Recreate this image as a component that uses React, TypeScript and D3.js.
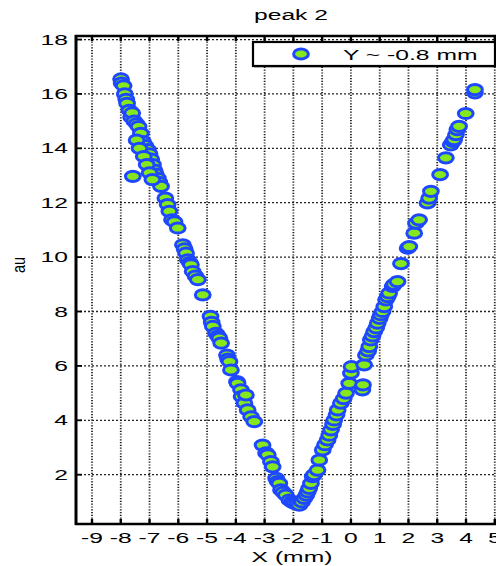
import React from "react";
import * as d3 from "d3";

const titleText = "peak 2";
const xLabelText = "X (mm)";
const yLabelText = "au";
const legendText = "Y ~ -0.8 mm";

const xTicks = [-9, -8, -7, -6, -5, -4, -3, -2, -1, 0, 1, 2, 3, 4, 5];
const yTicks = [2, 4, 6, 8, 10, 12, 14, 16, 18];

const xValues = [
  -7.99, -7.97, -7.9, -7.86, -7.81, -7.78, -7.7, -7.64, -7.6, -7.53, -7.45, -7.38, -7.3, -7.23, -7.15,
  -7.06, -7.0, -6.94, -6.88, -6.83, -6.78, -6.71, -6.66, -6.6, -7.58, -6.45, -6.37, -6.31, -6.22, -6.13,
  -7.45, -7.35, -7.2, -7.1, -7.0, -6.9,
  -6.02, -5.84, -5.78, -5.73, -5.67, -5.6, -5.56, -5.5, -5.4, -5.32, -5.15, -4.88, -4.84, -4.8, -4.69,
  -4.62, -4.57, -4.51, -4.31, -4.27, -4.22, -4.17, -3.96, -3.94, -3.82, -3.8, -3.7, -3.65, -3.59, -3.47,
  -3.36, -3.07, -2.95, -2.89, -2.78, -2.72, -2.6, -2.55, -2.49, -2.43, -2.35, -2.26, -2.14, -2.05, -1.97,
  -1.88, -1.79,
  -1.7, -1.62, -1.55, -1.5, -1.45, -1.39, -1.33, -1.28, -1.16, -1.1, -0.98, -0.9, -0.81, -0.75, -0.69,
  -0.62, -0.58, -0.5, -0.46, -0.35, -0.25, -0.17, -0.06, 0.4, 0.42, 0.0, 0.02, 0.46, 0.52, 0.6,
  0.64, 0.69, 0.75, 0.81, 0.88, 0.93, 1.0, 1.04, 1.1, 1.16, 1.22, 1.28, 1.33, 1.45, 1.5,
  1.62, 1.74, 1.97, 2.03, 2.2, 2.26, 2.37, 2.66, 2.72, 2.78, 3.1, 3.3, 3.47, 3.55, 3.59,
  3.65, 3.7, 3.76, 3.99, 4.31, 4.31,
];

const yValues = [
  16.55, 16.4, 16.3, 16.0, 15.8, 15.65, 15.4, 15.15, 15.3, 15.0, 14.9, 14.8, 14.55, 14.25, 14.1,
  13.95, 13.8, 13.6, 13.4, 13.2, 13.05, 12.9, 12.75, 12.6, 12.97, 12.17, 11.93, 11.68, 11.37, 11.3,
  14.3, 14.0, 13.7, 13.4, 13.1, 12.85,
  11.07, 10.45, 10.3, 10.15, 9.9, 9.8, 9.72, 9.47, 9.3, 9.17, 8.61, 7.82, 7.6, 7.45, 7.2,
  7.1, 7.02, 6.84, 6.4, 6.25, 6.16, 5.85, 5.42, 5.36, 5.12, 4.87, 4.63, 4.93, 4.38, 4.13,
  3.95, 3.09, 2.8, 2.73, 2.48, 2.29, 1.87, 1.75, 1.68, 1.44, 1.35, 1.25, 1.07, 1.0, 0.95,
  0.92, 0.88,
  1.0, 1.13, 1.25, 1.37, 1.5, 1.68, 1.93, 2.0, 2.17, 2.54, 2.91, 3.1, 3.28, 3.45, 3.65,
  3.85, 4.01, 4.2, 4.38, 4.63, 4.8, 5.0, 5.36, 5.12, 5.3, 5.73, 5.97, 6.04, 6.4, 6.55,
  6.71, 6.96, 7.1, 7.26, 7.4, 7.57, 7.75, 7.88, 8.0, 8.18, 8.43, 8.55, 8.68, 8.92, 9.0,
  9.1, 9.76, 10.33, 10.39, 10.88, 11.25, 11.37, 11.99, 12.17, 12.42, 13.03, 13.65, 14.13, 14.25, 14.32,
  14.5, 14.69, 14.81, 15.28, 16.04, 16.16,
];

const W = 496;
const H = 566;
const left = 76;
const top = 36;
const bottom = 524;
const pxPerX = 28.77;
const xDomain: [number, number] = [-9.556, 5.6];
const right = left + pxPerX * (xDomain[1] - xDomain[0]);

const BLUE = "#1e48ff";
const GREEN = "#84e81c";
const FONT = "'Liberation Sans', Arial, Helvetica, sans-serif";
const SX = 1.7;
const FS = 14.5;

export default function App() {
  const x = d3.scaleLinear().domain(xDomain).range([left, right]);
  const y = d3.scaleLinear().domain([0.187, 18.13]).range([bottom, top]);
  const pts = xValues.map((v, i) => ({ x: v, y: yValues[i] }));

  const stretchedText = (tx: number, ty: number, s: string, anchor: string) => (
    <text
      transform={`translate(${tx},${ty}) scale(${SX},1)`}
      textAnchor={anchor}
      fontFamily={FONT}
      fontSize={FS}
      fill="#000"
    >
      {s}
    </text>
  );

  return (
    <svg
      width={W}
      height={H}
      style={{ position: "absolute", left: 0, top: 0, background: "#fff" }}
    >
      <rect x={0} y={0} width={W} height={H} fill="#fff" />
      {/* grid */}
      {xTicks.map((t) => (
        <line
          key={"gx" + t}
          x1={x(t)}
          x2={x(t)}
          y1={top}
          y2={bottom}
          stroke="#222"
          strokeWidth={1.8}
          strokeDasharray="1.2,1.6"
        />
      ))}
      {yTicks.map((t) => (
        <line
          key={"gy" + t}
          x1={left}
          x2={right}
          y1={y(t)}
          y2={y(t)}
          stroke="#222"
          strokeWidth={1.3}
          strokeDasharray="2,2"
        />
      ))}
      {/* tick marks */}
      {xTicks.map((t) => (
        <g key={"tx" + t}>
          <line x1={x(t)} x2={x(t)} y1={bottom} y2={bottom - 5} stroke="#000" strokeWidth={2.4} />
          <line x1={x(t)} x2={x(t)} y1={top} y2={top + 5} stroke="#000" strokeWidth={2.4} />
        </g>
      ))}
      {yTicks.map((t) => (
        <line key={"ty" + t} x1={left} x2={left + 6} y1={y(t)} y2={y(t)} stroke="#000" strokeWidth={1.8} />
      ))}
      {/* axes box */}
      <line x1={left} x2={left} y1={top - 1} y2={bottom + 1} stroke="#000" strokeWidth={3} />
      <line x1={left - 1} x2={right} y1={bottom} y2={bottom} stroke="#000" strokeWidth={2.6} />
      <line x1={left - 1} x2={right} y1={top} y2={top} stroke="#000" strokeWidth={2.4} />
      <line x1={right} x2={right} y1={top} y2={bottom} stroke="#000" strokeWidth={3} />
      {/* points */}
      {pts.map((p, i) => (
        <ellipse
          key={"p" + i}
          cx={x(p.x)}
          cy={y(p.y)}
          rx={7.4}
          ry={5.1}
          fill={GREEN}
          stroke={BLUE}
          strokeWidth={3}
        />
      ))}
      {/* tick labels */}
      {xTicks.map((t) => (
        <g key={"lx" + t}>{stretchedText(x(t), 543, String(t), "middle")}</g>
      ))}
      {yTicks.map((t) => (
        <g key={"ly" + t}>{stretchedText(68, y(t) + 5, String(t), "end")}</g>
      ))}
      {/* title and axis labels */}
      {stretchedText(291, 20, titleText, "middle")}
      {stretchedText(292, 562, xLabelText, "middle")}
      <text
        transform={`translate(24.5,265) scale(1.25,1) rotate(-90)`}
        textAnchor="middle"
        fontFamily={FONT}
        fontSize={FS}
        fill="#000"
      >
        {yLabelText}
      </text>
      {/* legend */}
      <rect x={253} y={42} width={242} height={24} fill="#fff" stroke="#000" strokeWidth={2.2} />
      <line x1={254} x2={496} y1={66.5} y2={66.5} stroke="#000" strokeWidth={1.5} />
      <ellipse cx={301} cy={54} rx={7.4} ry={5.1} fill={GREEN} stroke={BLUE} strokeWidth={3} />
      {stretchedText(343, 59.5, legendText, "start")}
    </svg>
  );
}
